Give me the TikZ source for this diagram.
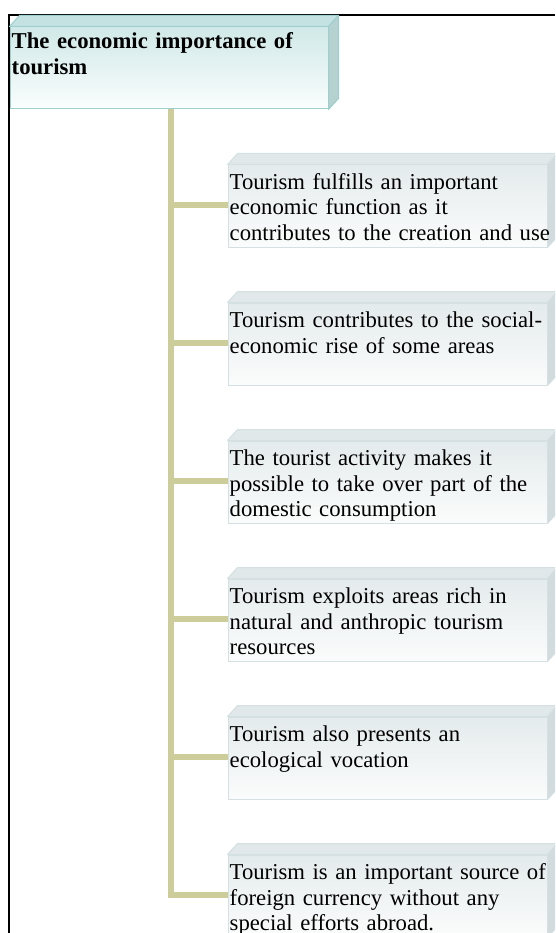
\documentclass[tikz,border=0pt]{standalone}
\usepackage{fontspec}
\setmainfont{Liberation Serif}
\definecolor{trunk}{RGB}{205,205,155}
\definecolor{hdrline}{RGB}{156,207,205}
\definecolor{hdrtop}{RGB}{196,226,225}
\definecolor{hdrside}{RGB}{181,209,208}
\definecolor{hdrgradtop}{RGB}{208,233,232}
\definecolor{hdrgradbot}{RGB}{250,253,253}
\definecolor{boxline}{RGB}{213,224,226}
\definecolor{boxtop}{RGB}{225,232,233}
\definecolor{boxside}{RGB}{210,219,221}
\definecolor{boxgradtop}{RGB}{228,235,236}
\definecolor{boxgradbot}{RGB}{251,252,252}
\newcommand\depthfaces[4]{%
  \filldraw[fill=#2,draw=#4,line width=1pt,line join=round] (#1.north west) -- ++(10,-11) -- ([shift={(10,-11)}]#1.north east) -- (#1.north east) -- cycle;
  \filldraw[fill=#3,draw=#4,line width=1pt,line join=round] (#1.north east) -- ++(10,-11) -- ([shift={(10,-11)}]#1.south east) -- (#1.south east) -- cycle;
}
\begin{document}
\begin{tikzpicture}[x=1pt,y=-1pt,
  hdrbox/.style={minimum width=318pt,minimum height=82pt,inner sep=0pt,
    top color=hdrgradtop,bottom color=hdrgradbot,draw=hdrline,line width=1pt},
  itembox/.style={minimum width=319pt,minimum height=82pt,inner sep=0pt,
    top color=boxgradtop,bottom color=boxgradbot,draw=boxline,line width=1pt},
  txt/.style={anchor=base west,inner sep=0pt,text width=330pt,align=left,
    font=\fontsize{22.7}{25.5}\selectfont},
  link/.style={draw=trunk,line width=6pt,line join=miter}
]
\useasboundingbox (0,0) rectangle (555,933);
\clip (0,0) rectangle (555,933);

% frame
\draw[line width=1.5pt,black] (9,933) -- (9,15) -- (555,15);

% header
\node[hdrbox] (hdr) at (169,68) {};
\depthfaces{hdr}{hdrtop}{hdrside}{hdrline}
\node[txt,font=\fontsize{22.7}{26}\selectfont\bfseries] (hdrtext) at ([shift={(2,22)}]hdr.north west)
  {The economic importance of\\tourism};

% item boxes
\foreach \i in {1,...,6}{
  \pgfmathsetmacro{\yc}{206+138*(\i-1)}
  \node[itembox] (b\i) at (387.5,\yc) {};
  \depthfaces{b\i}{boxtop}{boxside}{boxline}
}

\node[txt] (t1) at ([shift={(2,25)}]b1.north west)
  {Tourism fulfills an important\\economic function as it\\contributes to the creation and use};
\node[txt] (t2) at ([shift={(2,25)}]b2.north west)
  {Tourism contributes to the social-\\economic rise of some areas};
\node[txt] (t3) at ([shift={(2,25)}]b3.north west)
  {The tourist activity makes it\\possible to take over part of the\\domestic consumption};
\node[txt] (t4) at ([shift={(2,25)}]b4.north west)
  {Tourism exploits areas rich in\\natural and anthropic tourism\\resources};
\node[txt] (t5) at ([shift={(2,25)}]b5.north west)
  {Tourism also presents an\\ecological vocation};
\node[txt] (t6) at ([shift={(2,25)}]b6.north west)
  {Tourism is an important source of\\foreign currency without any\\special efforts abroad.};

% connectors
\path[link] ([xshift=2pt]hdr.south) |- ([yshift=1pt]b6.west);
\foreach \i in {1,...,5}{
  \path[link] ([xshift=2pt,yshift=1pt]hdr.south |- b\i.west) -- ([yshift=1pt]b\i.west);
}
\end{tikzpicture}
\end{document}
